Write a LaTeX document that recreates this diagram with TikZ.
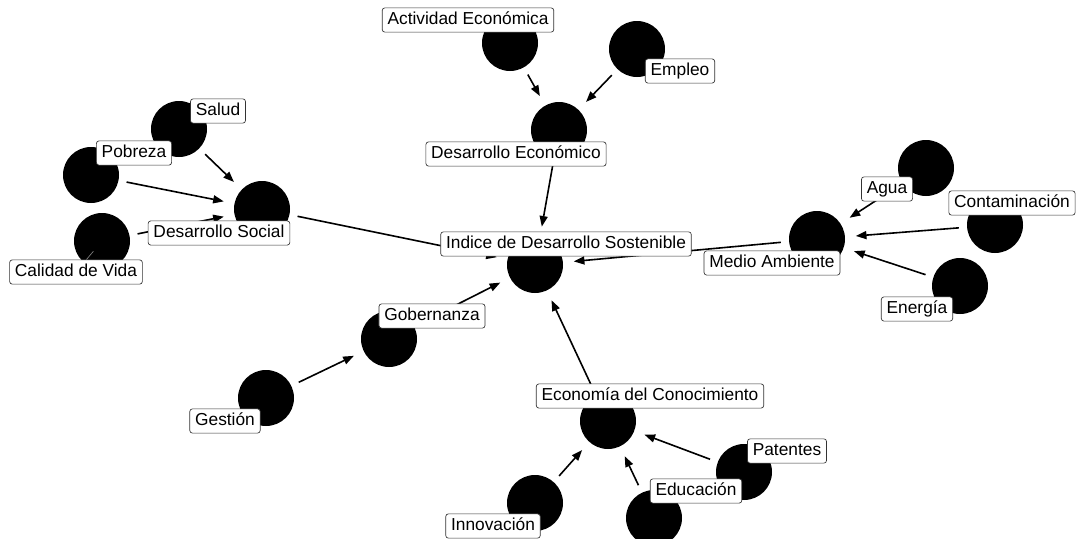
\documentclass[tikz,border=0pt]{standalone}
\usepackage{fontspec}
\setmainfont{Liberation Sans}
\usetikzlibrary{arrows.meta}
\tikzset{
        % Variable nodes
        node_var/.style={circle, fill=black, draw=none, minimum size=42pt, inner sep=0pt},
        % Text labels
        node_label/.style={rectangle, rounded corners=2pt, draw=black!80, line width=0.5pt, fill=white,
                font=\fontsize{13}{15}\selectfont, inner xsep=4pt, inner ysep=3pt, text height=9.5pt, text depth=2.7pt},
        % Links between variables
        edge_link/.style={-{Triangle[length=8pt, width=6pt]}, line width=1.2pt, shorten <=6pt, shorten >=8pt},
        % Label segment
        edge_segment/.style={gray, line width=0.5pt, shorten <=10pt}
}
\begin{document}
\begin{tikzpicture}[x=0.75pt, y=-0.75pt]
            \fill[white] (0,0) rectangle (1078,539);
            \useasboundingbox (0,0) rectangle (1078,539);
            % variables
            \node[node_var] (idx) at (535,265) {};
            \node[node_var] (ds) at (262,209) {};
            \node[node_var] (salud) at (179,129) {};
            \node[node_var] (pobreza) at (91,175) {};
            \node[node_var] (calidad) at (102,241) {};
            \node[node_var] (de) at (559,130) {};
            \node[node_var] (actividad) at (510,43) {};
            \node[node_var] (empleo) at (637,49) {};
            \node[node_var] (ma) at (817,239) {};
            \node[node_var] (agua) at (926,168) {};
            \node[node_var] (contam) at (995,225) {};
            \node[node_var] (energia) at (960,286) {};
            \node[node_var] (gob) at (389,339) {};
            \node[node_var] (gestion) at (266,398) {};
            \node[node_var] (ec) at (608,421) {};
            \node[node_var] (innov) at (535,503) {};
            \node[node_var] (educ) at (654,518) {};
            \node[node_var] (patentes) at (744,472) {};
            % links
            \draw[edge_link] (salud) -- (ds);
            \draw[edge_link] (pobreza) -- (ds);
            \draw[edge_link] (calidad) -- (ds);
            \draw[edge_link] (actividad) -- (de);
            \draw[edge_link] (empleo) -- (de);
            \draw[edge_link] (agua) -- (ma);
            \draw[edge_link] (contam) -- (ma);
            \draw[edge_link] (energia) -- (ma);
            \draw[edge_link] (gestion) -- (gob);
            \draw[edge_link] (innov) -- (ec);
            \draw[edge_link] (educ) -- (ec);
            \draw[edge_link] (patentes) -- (ec);
            \draw[edge_link] (ds) -- (idx);
            \draw[edge_link] (de) -- (idx);
            \draw[edge_link] (ma) -- (idx);
            \draw[edge_link] (gob) -- (idx);
            \draw[edge_link] (ec) -- (idx);
            % labels
            \node[node_label] (l_calidad) at (76,272) {Calidad de Vida};
            \draw[edge_segment] (calidad.center) -- (l_calidad);
            \node[node_label] (l_idx) at (566,244) {Indice de Desarrollo Sostenible};
            \node[node_label] (l_ds) at (219,233) {Desarrollo Social};
            \node[node_label] (l_salud) at (218,111) {Salud};
            \node[node_label] (l_pobreza) at (134,153) {Pobreza};
            \node[node_label] (l_de) at (516,154) {Desarrollo Económico};
            \node[node_label] (l_actividad) at (468,20) {Actividad Económica};
            \node[node_label] (l_empleo) at (680,71) {Empleo};
            \node[node_label] (l_ma) at (772,263) {Medio Ambiente};
            \node[node_label] (l_agua) at (887,189) {Agua};
            \node[node_label] (l_contam) at (1012,203) {Contaminación};
            \node[node_label] (l_energia) at (917,309) {Energía};
            \node[node_label] (l_gob) at (432,316) {Gobernanza};
            \node[node_label] (l_gestion) at (225,421) {Gestión};
            \node[node_label] (l_ec) at (650,396) {Economía del Conocimiento};
            \node[node_label] (l_innov) at (493,526) {Innovación};
            \node[node_label] (l_educ) at (696,491) {Educación};
            \node[node_label] (l_patentes) at (787,451) {Patentes};
\end{tikzpicture}
\end{document}
